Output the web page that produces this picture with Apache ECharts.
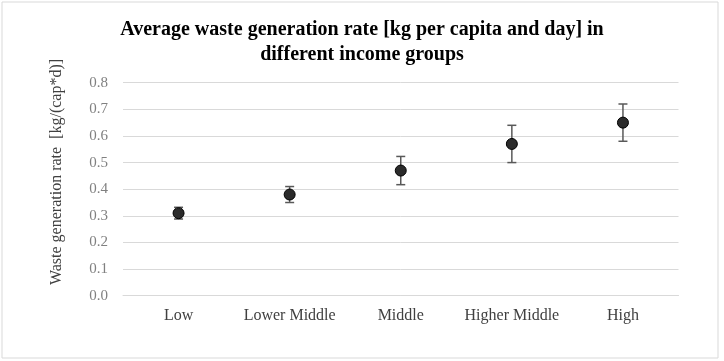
<!DOCTYPE html>
<html><head><meta charset="utf-8">
<script src="https://cdn.jsdelivr.net/npm/echarts@6/dist/echarts.min.js"></script>
<style>html,body{margin:0;padding:0;background:#fff}#c{width:724px;height:361px}</style>
</head><body><div id="c"></div>
<script>
const categories = ['Low', 'Lower Middle', 'Middle', 'Higher Middle', 'High'];
const meanValues = [0.31, 0.38, 0.47, 0.57, 0.65];
const errorValues = [0.022, 0.03, 0.053, 0.07, 0.07];
const titleText = 'Average waste generation rate [kg per capita and day] in\ndifferent income groups';
const yAxisTitle = 'Waste generation rate  [kg/(cap*d)]';

const errData = categories.map((c, i) => [i, meanValues[i] - errorValues[i], meanValues[i] + errorValues[i]]);
const chart = echarts.init(document.getElementById('c'));
chart.setOption({
  animation: false,
  title: {
    text: titleText, left: 'center', top: 12,
    textStyle: { fontFamily: 'Liberation Serif', fontWeight: 'bold', fontSize: 20, color: '#000', lineHeight: 25 }
  },
  graphic: [
    { type: 'rect', shape: { x: 2, y: 2, width: 716, height: 356 }, style: { fill: 'none', stroke: '#d9d9d9', lineWidth: 1 }, silent: true },
    { type: 'text', x: 57, y: 172, rotation: Math.PI / 2,
      style: { text: yAxisTitle, fontFamily: 'Liberation Serif', fontSize: 16, fill: '#404040', align: 'center', verticalAlign: 'middle' } }
  ],
  grid: { left: 123, right: 45.5, top: 82.7, bottom: 65.3 },
  xAxis: {
    type: 'category', data: categories,
    axisLine: { show: true, lineStyle: { color: '#d9d9d9', width: 1 } },
    axisTick: { show: false },
    axisLabel: { interval: 0, fontFamily: 'Liberation Serif', fontSize: 16, color: '#404040', margin: 12 }
  },
  yAxis: {
    type: 'value', min: 0, max: 0.8, interval: 0.1,
    axisLine: { show: false }, axisTick: { show: false },
    splitLine: { lineStyle: { color: '#d9d9d9', width: 1 } },
    axisLabel: { fontFamily: 'Liberation Serif', fontSize: 15, color: '#808080', margin: 15, formatter: v => v.toFixed(1) }
  },
  series: [
    {
      type: 'custom', data: errData, z: 2,
      renderItem: function (params, api) {
        const x = api.value(0);
        const lo = api.coord([x, api.value(1)]);
        const hi = api.coord([x, api.value(2)]);
        const hw = 4.5;
        const st = { stroke: '#595959', lineWidth: 1.5, fill: 'none' };
        return { type: 'group', children: [
          { type: 'line', shape: { x1: lo[0], y1: lo[1], x2: hi[0], y2: hi[1] }, style: st },
          { type: 'line', shape: { x1: lo[0] - hw, y1: lo[1], x2: lo[0] + hw, y2: lo[1] }, style: st },
          { type: 'line', shape: { x1: hi[0] - hw, y1: hi[1], x2: hi[0] + hw, y2: hi[1] }, style: st }
        ] };
      }
    },
    {
      type: 'scatter', data: meanValues, symbol: 'circle', symbolSize: 11, z: 3,
      itemStyle: { color: '#2b2b2b', borderColor: '#000', borderWidth: 1, opacity: 1 }
    }
  ]
});
</script></body></html>
